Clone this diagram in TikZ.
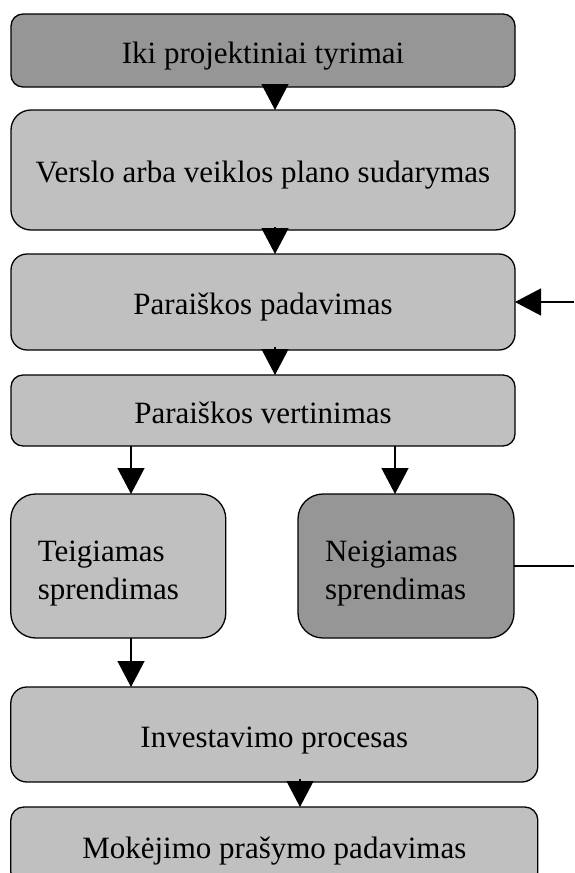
\documentclass[tikz,border=0pt]{standalone}
\usepackage{fontspec}
\setmainfont{Liberation Serif}
\usetikzlibrary{arrows.meta}
\definecolor{boxlight}{RGB}{192,192,192}
\definecolor{boxdark}{RGB}{150,150,150}
\begin{document}
\begin{tikzpicture}[y=1pt, x=1pt, yscale=-1.000000, xscale=1.000000, inner sep=0pt, outer sep=0pt,
  box/.style={draw=black, line width=1.3pt, align=center, font=\fontsize{31}{38}\selectfont, text height=25pt, text depth=0pt},
  twoline/.style={align=left, text height=, text depth=},
  lightbox/.style={box, fill=boxlight},
  darkbox/.style={box, fill=boxdark},
  tri/.style={draw=black, line width=1.3pt, -{Triangle[width=27pt,length=26pt]}}]
\useasboundingbox (0,0) rectangle (574,873);
  % boxes
  \node[darkbox, minimum width=504pt, minimum height=73pt, rounded corners=12pt] (b1) at (263,50.5) {Iki projektiniai tyrimai};
  \node[lightbox, minimum width=504pt, minimum height=120pt, rounded corners=20pt] (b2) at (263,170) {Verslo arba veiklos plano sudarymas};
  \node[lightbox, minimum width=504pt, minimum height=96pt, rounded corners=16pt] (b3) at (263,302) {Paraiškos padavimas};
  \node[lightbox, minimum width=504pt, minimum height=71pt, rounded corners=12pt] (b4) at (263,410.5) {Paraiškos vertinimas};
  \node[lightbox, twoline, text width=161pt, inner xsep=27pt, minimum height=144pt, rounded corners=25pt] (b5) at (118.3,566) {\rule{0pt}{36pt}Teigiamas\\sprendimas};
  \node[darkbox, twoline, text width=162pt, inner xsep=27pt, minimum height=144pt, rounded corners=25pt] (b6) at (406,566) {\rule{0pt}{36pt}Neigiamas\\sprendimas};
  \node[lightbox, minimum width=527pt, minimum height=95pt, rounded corners=16pt] (b7) at (274.3,734.5) {Investavimo procesas};
  \node[lightbox, minimum width=527pt, minimum height=78pt, rounded corners=13pt] (b8) at (274.3,846) {Mokėjimo prašymo padavimas};
  % arrow starts
  \coordinate (p12) at (275,84);
  \coordinate (p23) at (275,227);
  \coordinate (p34) at (275,347);
  \coordinate (p45) at (131,446);
  \coordinate (p46) at (395,446);
  \coordinate (p57) at (131,638);
  \coordinate (p78) at (300,779);
  \coordinate (back) at (574,302);
  \coordinate (neg) at (574,566);
  % connectors
  \draw[tri] (p12) -- (p12 |- b2.north);
  \draw[tri] (p23) -- (p23 |- b3.north);
  \draw[tri] (p34) -- (p34 |- b4.north);
  \draw[tri] (p45) -- (p45 |- b5.north);
  \draw[tri] (p46) -- (p46 |- b6.north);
  \draw[tri] (p57) -- (p57 |- b7.north);
  \draw[tri] (p78) -- (p78 |- b8.north);
  \draw[tri] (back) -- (b3.east);
  \draw[line width=1.3pt] (b6.east) -- (neg);
\end{tikzpicture}
\end{document}
